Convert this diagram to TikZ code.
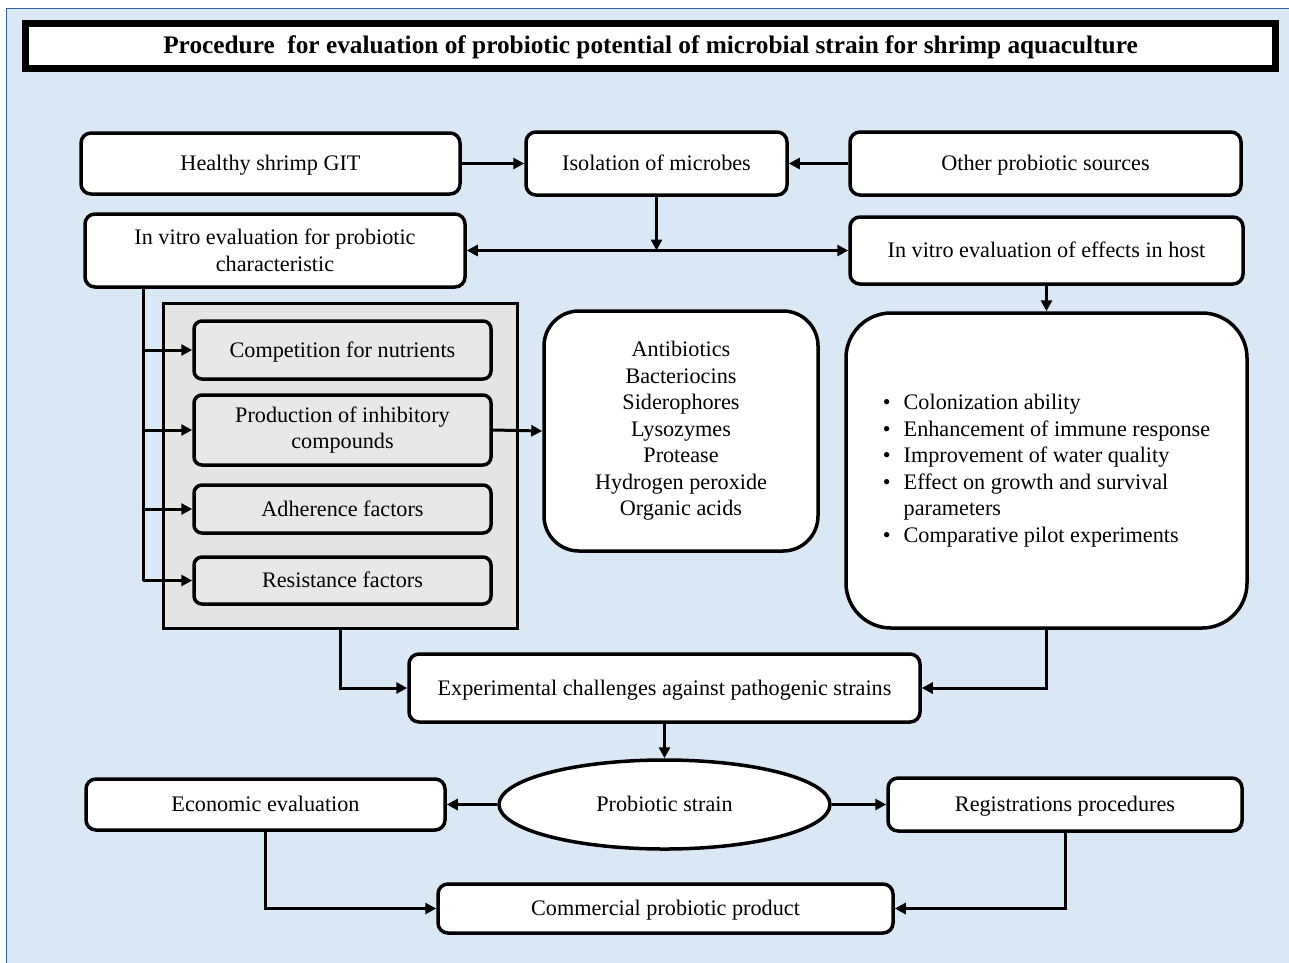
\documentclass[tikz,border=0pt]{standalone}
\usepackage{fontspec}
\setmainfont{Liberation Serif}
\usetikzlibrary{arrows.meta,shapes.geometric}
\definecolor{bgblue}{HTML}{DAE8F6}
\definecolor{edgeblue}{HTML}{2F5F9F}
\definecolor{panelgray}{HTML}{E4E4E4}
\definecolor{innergray}{HTML}{E8E8E8}
\begin{document}
\begin{tikzpicture}[x=1pt,y=-1pt,
  txt/.style={font=\fontsize{22.2}{26.5}\selectfont},
  box/.style={draw,line width=3.5pt,rounded corners=10pt,fill=white,align=center,inner sep=0pt,txt},
  one/.style={text height=19pt,text depth=4.3pt},
  gbox/.style={box,fill=innergray,rounded corners=8pt},
  arr/.style={line width=3pt,-{Triangle[length=11pt,width=11pt]}},
  ln/.style={line width=3pt}]
\useasboundingbox (0,0) rectangle (1289,962);
\fill[white] (0,0) rectangle (1289,962);
\draw[fill=bgblue,draw=edgeblue,line width=1.5pt] (6.5,8.5) rectangle (1300,980);

% title
\node[draw,line width=7pt,fill=white,minimum width=1250pt,minimum height=45pt,inner sep=0pt,
  text height=21pt,text depth=5pt,
  font=\fontsize{25.3}{30}\selectfont\bfseries] (title) at (650.5,45.5)
  {Procedure\ \ for evaluation\ of probiotic potential\ of microbial\ strain\ for shrimp\ aquaculture};

% top row
\node[box,one,minimum width=379pt,minimum height=61pt] (healthy) at (270.5,163.5) {Healthy shrimp GIT};
\node[box,one,minimum width=261pt,minimum height=63pt] (isol) at (656.5,163.5) {Isolation of microbes};
\node[box,one,minimum width=391pt,minimum height=63pt] (other) at (1045.5,163.5) {Other probiotic sources};

\node[box,minimum width=380pt,minimum height=73pt] (vitro1) at (275,250.5) {In vitro evaluation for probiotic\\characteristic};
\node[box,one,minimum width=393pt,minimum height=67pt] (vitro2) at (1046.5,250.5) {In vitro evaluation of effects in host};

% gray panel
\node[draw,line width=3pt,fill=panelgray,minimum width=354pt,minimum height=325pt,inner sep=0pt] (panel) at (340.5,466) {};
\node[gbox,one,minimum width=297pt,minimum height=58pt] (comp) at (342.5,350) {Competition for nutrients};
\node[gbox,minimum width=297pt,minimum height=70pt] (prod) at (342.5,430) {Production of inhibitory\\compounds};
\node[gbox,one,minimum width=297pt,minimum height=48pt] (adh) at (342.5,509) {Adherence factors};
\node[gbox,one,minimum width=297pt,minimum height=47pt] (res) at (342.5,580.5) {Resistance factors};

% compounds
\node[box,rounded corners=35pt,minimum width=274pt,minimum height=240pt] (anti) at (681,431)
  {Antibiotics\\Bacteriocins\\Siderophores\\Lysozymes\\Protease\\Hydrogen peroxide\\Organic acids};

% host effects
\node[box,rounded corners=45pt,minimum width=401pt,minimum height=315pt] (host) at (1046.5,470.5)
  {\renewcommand{\arraystretch}{1}\begin{tabular}{@{}l@{\hspace{13pt}}l@{}}
  \textbullet & Colonization ability\\
  \textbullet & Enhancement of immune response\\
  \textbullet & Improvement of water quality\\
  \textbullet & Effect on growth and survival\\
   & parameters\\
  \textbullet & Comparative pilot experiments
  \end{tabular}};

% lower part
\node[box,one,minimum width=511pt,minimum height=68pt] (exp) at (664.5,688) {Experimental challenges against pathogenic strains};
\node[draw,line width=3.5pt,fill=white,ellipse,minimum width=331pt,minimum height=89pt,inner sep=0pt,txt,one] (strain) at (664.5,804.5) {Probiotic strain};
\node[box,one,minimum width=359pt,minimum height=51pt] (econ) at (265.5,804.5) {Economic evaluation};
\node[box,one,minimum width=354pt,minimum height=53pt] (reg) at (1065,804.5) {Registrations procedures};
\node[box,one,minimum width=455pt,minimum height=49pt] (comm) at (665.5,908.5) {Commercial probiotic product};

% connectors
\draw[arr] (healthy.east) -- (isol.west);
\draw[arr] (other.west) -- (isol.east);
\coordinate (split) at (isol.south |- vitro1.east);
\draw[arr] (isol.south) -- (split);
\draw[arr] (split) -- (vitro1.east);
\draw[arr] (split) -- (vitro2.west);
\draw[arr] (vitro2.south) -- (host.north);

\coordinate (bus) at (143,0);
\draw[ln] (bus |- vitro1.south) -- (bus |- res.west);
\draw[arr] (bus |- comp.west) -- (comp.west);
\draw[arr] (bus |- prod.west) -- (prod.west);
\draw[arr] (bus |- adh.west) -- (adh.west);
\draw[arr] (bus |- res.west) -- (res.west);

\draw[arr] (prod.east) -- (anti.west);

\draw[arr] (panel.south) |- (exp.west);
\draw[arr] (host.south) |- (exp.east);
\draw[arr] (exp.south) -- (strain.north);
\draw[arr] (strain.west) -- (econ.east);
\draw[arr] (strain.east) -- (reg.west);
\draw[arr] (econ.south) |- (comm.west);
\draw[arr] (reg.south) |- (comm.east);
\end{tikzpicture}
\end{document}
